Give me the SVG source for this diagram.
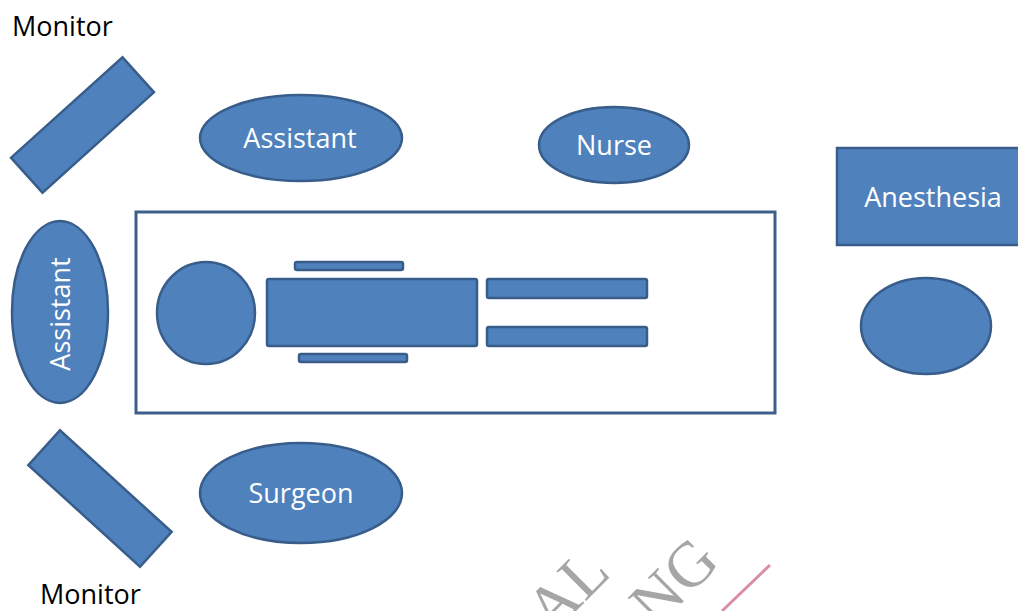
<svg xmlns="http://www.w3.org/2000/svg" width="1018" height="611" viewBox="0 0 1018 611">
<style>
.s{fill:#4F81BD;stroke:#385D8A;stroke-width:2.5}
.t{font-family:"Open Sans","Noto Sans",sans-serif;font-size:27px;fill:#ffffff;text-anchor:middle}
.m{font-family:"Open Sans","Noto Sans",sans-serif;font-size:27px;fill:#000000}
.w{font-family:"Liberation Serif",serif;font-size:64px;fill:#a6a6a6}
</style>
<rect width="1018" height="611" fill="#ffffff"/>
<g id="monitor-top">
<text class="m" x="12" y="36">Monitor</text>
<rect class="s" x="7.5" y="101.5" width="150" height="47" transform="rotate(-42 82.5 125)"/>
</g>
<g id="monitor-bottom">
<rect class="s" x="24.5" y="475" width="151" height="47" transform="rotate(42.3 100 498.5)"/>
<text class="m" x="40" y="604">Monitor</text>
</g>
<g id="assistant-top">
<ellipse class="s" cx="301" cy="138" rx="101" ry="43"/>
<text class="t" x="300" y="148">Assistant</text>
</g>
<g id="nurse">
<ellipse class="s" cx="614" cy="145" rx="75" ry="38"/>
<text class="t" x="614" y="155">Nurse</text>
</g>
<g id="anesthesia">
<rect class="s" x="837" y="148" width="200" height="97"/>
<text class="t" x="933" y="207">Anesthesia</text>
</g>
<g id="anesthesia-seat">
<ellipse class="s" cx="926" cy="326" rx="65" ry="48"/>
</g>
<g id="assistant-left">
<ellipse class="s" cx="60" cy="312" rx="48" ry="91"/>
<text class="t" x="0" y="0" transform="translate(70 314) rotate(-90)">Assistant</text>
</g>
<g id="table">
<rect x="136" y="212" width="639" height="201" fill="none" stroke="#3D5F8C" stroke-width="3"/>
</g>
<g id="patient">
<ellipse class="s" cx="206" cy="313" rx="49" ry="51"/>
<rect class="s" x="267" y="279" width="210" height="67" rx="2"/>
<rect class="s" x="295" y="262" width="108" height="8" rx="2"/>
<rect class="s" x="299" y="354" width="108" height="8" rx="2"/>
<rect class="s" x="487" y="279" width="160" height="19" rx="2"/>
<rect class="s" x="487" y="327" width="160" height="19" rx="2"/>
</g>
<g id="surgeon">
<ellipse class="s" cx="301" cy="493" rx="101" ry="50"/>
<text class="t" x="301" y="503">Surgeon</text>
</g>
<g id="watermark">
<text class="w" x="0" y="0" transform="translate(552 635) rotate(-45)">AL</text>
<text class="w" x="0" y="0" transform="translate(656 629) rotate(-45)">NG</text>
<line x1="770" y1="565" x2="722" y2="611" stroke="#D98FA3" stroke-width="3"/>
</g>
</svg>
